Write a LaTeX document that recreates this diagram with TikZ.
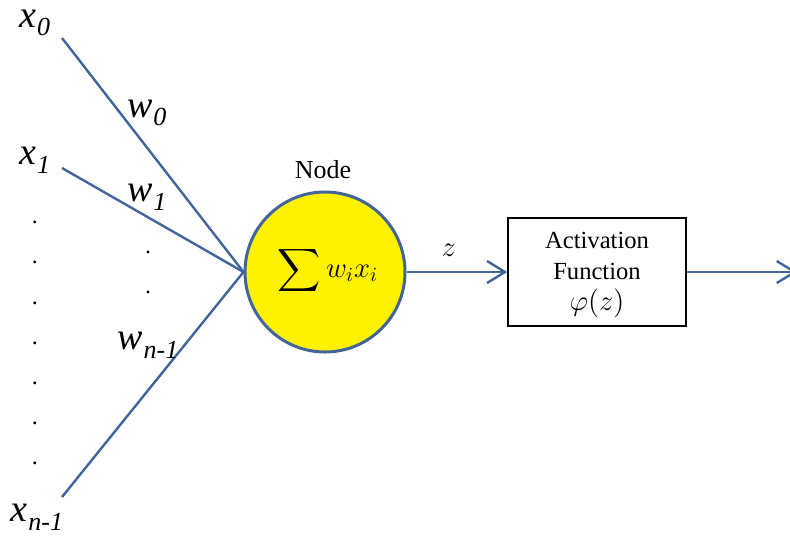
\documentclass[tikz,border=0pt]{standalone}
\usepackage{fontspec}
\setmainfont{Liberation Serif}
\usetikzlibrary{arrows.meta}
\definecolor{linkblue}{RGB}{65,101,154}
\newcommand{\vlab}[2]{\textit{#1}\kern0.3pt\raisebox{-0.5ex}{\fontsize{13}{13}\selectfont\textit{#2}}}

\begin{document}
\begin{tikzpicture}[x=0.5pt,y=-0.5pt, every node/.style={inner sep=0pt},
  link/.style={draw=linkblue,line width=1.2pt},
  flow/.style={link,-{Straight Barb[length=9pt,width=11pt,line width=1.2pt]}},
  biglab/.style={font=\fontsize{19}{19}\selectfont},
  dotlab/.style={font=\fontsize{12}{12}\selectfont}]
\useasboundingbox (0,0) rectangle (790,542);

% inputs
\node[biglab](x0) at (35,23) {\vlab{x}{0}};
\node[biglab](x1) at (35,160) {\vlab{x}{1}};
\node[biglab](xn) at (37,517) {\vlab{x}{n-1}};
\coordinate (in0) at (62,38);
\coordinate (in1) at (62,168);
\coordinate (inn) at (62,497);

\foreach \y [count=\i] in {222,262,303,343,383,423,463}
  \node[dotlab](d\i) at (35,\y) {.};
\node[dotlab](m1) at (148,252) {.};
\node[dotlab](m2) at (148,292) {.};

% the node
\node[circle,draw=linkblue,line width=1.5pt,fill=yellow,minimum size=80pt](sum) at (325,272) {};
\node[font=\fontsize{14}{16}\selectfont](sumtxt) at (328,270)
  {$\vcenter{\hbox{\scalebox{1.5}{$\displaystyle\sum$}}}\,w_i x_i$};
\node[font=\fontsize{13}{13}\selectfont](nodelab) at (323,170) {Node};

\draw[link](in0)--(sum.west);
\draw[link](in1)--(sum.west);
\draw[link](inn)--(sum.west);

\node[biglab](w0) at (147,113) {\vlab{w}{0}};
\node[biglab](w1) at (147,197) {\vlab{w}{1}};
\node[biglab](wn) at (148,345) {\vlab{w}{n-1}};

% activation
\node[draw,line width=0.7pt,minimum width=89pt,minimum height=54pt](act) at (597,272) {};
\node[align=center,font=\fontsize{12.3}{15.5}\selectfont](acttxt) at (597,275)
  {Activation\\Function\\{\fontsize{14}{14}\selectfont$\varphi(z)$}};
\coordinate (out) at (797,272);

\draw[flow](sum.east)--(act.west) node[midway,above=7pt,xshift=-4pt,font=\fontsize{14}{14}\selectfont]{$z$};
\draw[flow](act.east)--(out);

\end{tikzpicture}
\end{document}
